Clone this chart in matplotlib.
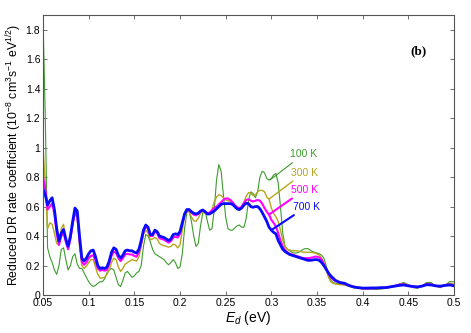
import matplotlib
matplotlib.use("Agg")
import matplotlib.pyplot as plt

plt.rcParams['font.family'] = ['Liberation Sans', 'DejaVu Sans']
plt.rcParams['mathtext.fontset'] = 'custom'
plt.rcParams['mathtext.rm'] = 'Liberation Sans'
plt.rcParams['mathtext.it'] = 'Liberation Sans:italic'
plt.rcParams['mathtext.bf'] = 'Liberation Sans:bold'
plt.rcParams['mathtext.default'] = 'regular'

energy = [
    0.0500, 0.0525, 0.0550, 0.0575, 0.0600, 0.0625, 0.0650, 0.0675, 0.0700, 0.0725,
    0.0750, 0.0775, 0.0800, 0.0825, 0.0850, 0.0875, 0.0900, 0.0925, 0.0950, 0.0975,
    0.1000, 0.1025, 0.1050, 0.1075, 0.1100, 0.1125, 0.1150, 0.1175, 0.1200, 0.1225,
    0.1250, 0.1275, 0.1300, 0.1325, 0.1350, 0.1375, 0.1400, 0.1425, 0.1450, 0.1475,
    0.1500, 0.1525, 0.1550, 0.1575, 0.1600, 0.1625, 0.1650, 0.1675, 0.1700, 0.1725,
    0.1750, 0.1775, 0.1800, 0.1825, 0.1850, 0.1875, 0.1900, 0.1925, 0.1950, 0.1975,
    0.2000, 0.2025, 0.2050, 0.2075, 0.2100, 0.2125, 0.2150, 0.2175, 0.2200, 0.2225,
    0.2250, 0.2275, 0.2300, 0.2325, 0.2350, 0.2375, 0.2400, 0.2425, 0.2450, 0.2475,
    0.2500, 0.2525, 0.2550, 0.2575, 0.2600, 0.2625, 0.2650, 0.2675, 0.2700, 0.2725,
    0.2750, 0.2775, 0.2800, 0.2825, 0.2850, 0.2875, 0.2900, 0.2925, 0.2950, 0.2975,
    0.3000, 0.3025, 0.3050, 0.3075, 0.3100, 0.3125, 0.3150, 0.3175, 0.3200, 0.3225,
    0.3250, 0.3275, 0.3300, 0.3325, 0.3350, 0.3375, 0.3400, 0.3425, 0.3450, 0.3475,
    0.3500, 0.3525, 0.3550, 0.3575, 0.3600, 0.3625, 0.3650, 0.3675, 0.3700,
    0.375, 0.380, 0.385, 0.390, 0.395, 0.400, 0.405, 0.410, 0.415, 0.420,
    0.425, 0.430, 0.435, 0.440, 0.445, 0.450, 0.455, 0.460, 0.465, 0.470,
    0.475, 0.480, 0.485, 0.490, 0.495, 0.500,
]

rate_100K = [
    1.88, 1.20, 0.32, 0.26, 0.22, 0.17, 0.14, 0.20, 0.31, 0.32,
    0.24, 0.17, 0.20, 0.26, 0.28, 0.21, 0.18, 0.18, 0.15, 0.12,
    0.09, 0.07, 0.057, 0.065, 0.08, 0.09, 0.09, 0.11, 0.15, 0.17,
    0.18, 0.17, 0.12, 0.07, 0.057, 0.10, 0.15, 0.16, 0.14, 0.12,
    0.13, 0.15, 0.16, 0.20, 0.33, 0.41, 0.40, 0.36, 0.31, 0.28,
    0.27, 0.26, 0.25, 0.24, 0.22, 0.205, 0.22, 0.24, 0.22, 0.18,
    0.19, 0.28, 0.45, 0.56, 0.57, 0.50, 0.40, 0.33, 0.35, 0.47,
    0.56, 0.57, 0.50, 0.44, 0.45, 0.58, 0.78, 0.885, 0.84, 0.68,
    0.53, 0.45, 0.44, 0.44, 0.455, 0.47, 0.475, 0.46, 0.46, 0.52,
    0.64, 0.70, 0.69, 0.66, 0.70, 0.80, 0.84, 0.83, 0.79, 0.78,
    0.79, 0.815, 0.825, 0.76, 0.60, 0.42, 0.33, 0.31, 0.30, 0.29,
    0.285, 0.285, 0.29, 0.30, 0.31, 0.315, 0.315, 0.305, 0.295, 0.29,
    0.285, 0.28, 0.27, 0.25, 0.20, 0.14, 0.10, 0.085, 0.08,
    0.075, 0.07, 0.06, 0.05, 0.045, 0.042, 0.04, 0.04, 0.038, 0.04,
    0.045, 0.05, 0.06, 0.075, 0.085, 0.07, 0.05, 0.045, 0.06, 0.085,
    0.085, 0.06, 0.05, 0.065, 0.09, 0.09,
]

rate_300K = [
    1.00, 0.75, 0.45, 0.49, 0.48, 0.42, 0.35, 0.34, 0.45, 0.48,
    0.36, 0.32, 0.38, 0.48, 0.555, 0.52, 0.33, 0.20, 0.18, 0.195,
    0.22, 0.24, 0.24, 0.19, 0.14, 0.115, 0.115, 0.12, 0.14, 0.17,
    0.22, 0.25, 0.24, 0.19, 0.16, 0.18, 0.21, 0.22, 0.23, 0.24,
    0.235, 0.23, 0.26, 0.33, 0.41, 0.44, 0.42, 0.375, 0.38, 0.39,
    0.38, 0.35, 0.34, 0.335, 0.33, 0.325, 0.33, 0.345, 0.34, 0.32,
    0.34, 0.44, 0.54, 0.57, 0.565, 0.53, 0.505, 0.50, 0.52, 0.555,
    0.565, 0.555, 0.545, 0.55, 0.58, 0.63, 0.665, 0.68, 0.675, 0.66,
    0.645, 0.64, 0.635, 0.62, 0.60, 0.58, 0.575, 0.59, 0.63, 0.67,
    0.695, 0.69, 0.675, 0.68, 0.70, 0.71, 0.71, 0.70, 0.665, 0.65,
    0.59, 0.555, 0.53, 0.50, 0.44, 0.37, 0.33, 0.31, 0.305, 0.30,
    0.30, 0.30, 0.297, 0.295, 0.29, 0.29, 0.29, 0.29, 0.288, 0.285,
    0.28, 0.27, 0.25, 0.22, 0.17, 0.12, 0.09, 0.08, 0.075,
    0.07, 0.068, 0.06, 0.05, 0.045, 0.042, 0.042, 0.043, 0.043, 0.045,
    0.048, 0.053, 0.06, 0.072, 0.078, 0.066, 0.054, 0.05, 0.062, 0.078,
    0.076, 0.06, 0.055, 0.067, 0.08, 0.075,
]

rate_500K = [
    0.80, 0.72, 0.58, 0.60, 0.62, 0.55, 0.42, 0.34, 0.40, 0.42,
    0.36, 0.31, 0.38, 0.48, 0.56, 0.54, 0.37, 0.225, 0.205, 0.22,
    0.25, 0.265, 0.27, 0.23, 0.18, 0.165, 0.17, 0.165, 0.17, 0.21,
    0.265, 0.295, 0.285, 0.25, 0.23, 0.25, 0.275, 0.28, 0.275, 0.275,
    0.265, 0.26, 0.29, 0.35, 0.43, 0.465, 0.45, 0.40, 0.40, 0.43,
    0.42, 0.385, 0.38, 0.375, 0.365, 0.355, 0.365, 0.39, 0.395, 0.39,
    0.415, 0.48, 0.55, 0.575, 0.575, 0.56, 0.545, 0.54, 0.55, 0.565,
    0.575, 0.565, 0.555, 0.56, 0.575, 0.59, 0.60, 0.615, 0.63, 0.645,
    0.655, 0.655, 0.645, 0.63, 0.61, 0.595, 0.59, 0.60, 0.625, 0.645,
    0.65, 0.64, 0.635, 0.64, 0.645, 0.64, 0.62, 0.59, 0.565, 0.545,
    0.51, 0.49, 0.465, 0.42, 0.37, 0.33, 0.305, 0.29, 0.28, 0.275,
    0.27, 0.265, 0.26, 0.255, 0.25, 0.25, 0.25, 0.252, 0.255, 0.26,
    0.26, 0.255, 0.24, 0.21, 0.18, 0.145, 0.12, 0.105, 0.095,
    0.085, 0.075, 0.065, 0.055, 0.05, 0.045, 0.045, 0.046, 0.046, 0.048,
    0.05, 0.055, 0.062, 0.07, 0.072, 0.064, 0.056, 0.054, 0.062, 0.074,
    0.072, 0.062, 0.058, 0.066, 0.072, 0.066,
]

rate_700K = [
    0.72, 0.68, 0.61, 0.64, 0.66, 0.58, 0.45, 0.365, 0.42, 0.445,
    0.38, 0.33, 0.40, 0.50, 0.59, 0.57, 0.40, 0.25, 0.23, 0.25,
    0.28, 0.30, 0.305, 0.26, 0.20, 0.18, 0.185, 0.18, 0.19, 0.23,
    0.29, 0.32, 0.31, 0.27, 0.25, 0.27, 0.30, 0.305, 0.30, 0.30,
    0.29, 0.285, 0.31, 0.37, 0.44, 0.475, 0.46, 0.41, 0.41, 0.44,
    0.43, 0.40, 0.395, 0.39, 0.38, 0.37, 0.38, 0.41, 0.415, 0.41,
    0.43, 0.49, 0.55, 0.58, 0.58, 0.565, 0.555, 0.55, 0.555, 0.57,
    0.577, 0.565, 0.55, 0.55, 0.56, 0.57, 0.585, 0.60, 0.615, 0.62,
    0.62, 0.62, 0.62, 0.615, 0.60, 0.585, 0.58, 0.59, 0.61, 0.623,
    0.62, 0.60, 0.595, 0.60, 0.60, 0.585, 0.56, 0.53, 0.50, 0.46,
    0.44, 0.425, 0.415, 0.37, 0.34, 0.31, 0.295, 0.285, 0.275, 0.27,
    0.265, 0.26, 0.255, 0.25, 0.245, 0.24, 0.235, 0.235, 0.237, 0.24,
    0.24, 0.235, 0.22, 0.20, 0.175, 0.15, 0.13, 0.115, 0.10,
    0.085, 0.08, 0.065, 0.055, 0.05, 0.047, 0.047, 0.048, 0.048, 0.05,
    0.05, 0.055, 0.06, 0.065, 0.068, 0.062, 0.058, 0.055, 0.06, 0.07,
    0.068, 0.062, 0.06, 0.065, 0.068, 0.062,
]

labels = ['100 K', '300 K', '500 K', '700 K']
colors = ['#3c9c2c', '#b5a61c', '#ff00ff', '#0a0aff']
widths = [0.8, 1.0, 1.5, 2.0]
series = [rate_100K, rate_300K, rate_500K, rate_700K]
# annotation: text anchor (E, value) and arrow target (E, value)
label_pos = [(0.3205, 0.956), (0.3212, 0.831), (0.3212, 0.713), (0.3240, 0.600)]
arrow_to = [(0.2984, 0.780), (0.2973, 0.650), (0.2973, 0.545), (0.2999, 0.440)]

xticks = [0.05, 0.1, 0.15, 0.2, 0.25, 0.3, 0.35, 0.4, 0.45, 0.5]
xticklabels = ['0.05', '0.1', '0.15', '0.2', '0.25', '0.3', '0.35', '0.4', '0.45', '0.5']
yticks = [0, 0.2, 0.4, 0.6, 0.8, 1.0, 1.2, 1.4, 1.6, 1.8]
yticklabels = ['0', '0.2', '0.4', '0.6', '0.8', '1', '1.2', '1.4', '1.6', '1.8']

fig = plt.figure(figsize=(4.71, 3.33), dpi=100)
ax = fig.add_axes([43/471, 38/333, 411/471, 280/333])

for vals, c, lw in zip(series, colors, widths):
    ax.plot(energy, vals, color=c, lw=lw, solid_joinstyle='round')

for lab, c, lw, tp, ap in zip(labels, colors, widths, label_pos, arrow_to):
    ax.annotate(lab, xy=ap, xytext=tp, color=c, fontsize=7.5,
                ha='left', va='center',
                arrowprops=dict(arrowstyle='-', color=c, lw=min(lw, 1.5),
                                shrinkA=1, shrinkB=0))

ax.text(0.461, 1.657, '(b)', fontsize=9.5, fontweight='bold',
        family=['Liberation Serif', 'DejaVu Serif'], ha='center', va='center')

ax.set_xlim(0.05, 0.5)
ax.set_ylim(0, 1.9)
ax.set_xticks(xticks)
ax.set_xticklabels(xticklabels)
ax.set_yticks(yticks)
ax.set_yticklabels(yticklabels)
ax.tick_params(direction='in', length=3, width=0.6, colors='#555555',
               labelcolor='black', labelsize=7.5, top=True, right=True, pad=2)
for sp in ax.spines.values():
    sp.set_color('#555555')
    sp.set_linewidth(0.8)

ax.set_xlabel(r'$\mathit{E_d}$ (eV)', fontsize=10, labelpad=1)
ax.set_ylabel(r'Reduced DR rate coefficient (10$^{-8}$ cm$^{3}$s$^{-1}$ eV$^{1/2}$)',
              fontsize=8.8, labelpad=1)

fig.savefig('out.png', dpi=100)
